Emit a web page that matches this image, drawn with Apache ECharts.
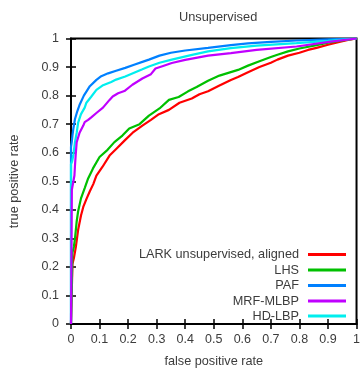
<!DOCTYPE html>
<html>
<head>
<meta charset="utf-8">
<script src="https://cdn.jsdelivr.net/npm/echarts@6/dist/echarts.min.js"></script>
<style>html,body{margin:0;padding:0;background:#fff;}#c{width:363px;height:373px;}</style>
</head>
<body>
<div id="c"></div>
<script>
var seriesNames = ['LARK unsupervised, aligned', 'LHS', 'PAF', 'MRF-MLBP', 'HD-LBP'];
var seriesColors = ['#ff0000', '#00c000', '#0080ff', '#c000ff', '#00eeee'];
var xTicks = [0, 0.1, 0.2, 0.3, 0.4, 0.5, 0.6, 0.7, 0.8, 0.9, 1];

var larkX = [0, 0.005, 0.01, 0.017, 0.025, 0.035, 0.043, 0.055, 0.066, 0.078, 0.089, 0.11, 0.135, 0.16, 0.19, 0.216, 0.25, 0.28, 0.308, 0.343, 0.38, 0.423, 0.45, 0.48, 0.52, 0.56, 0.585, 0.62, 0.66, 0.7, 0.723, 0.76, 0.8, 0.83, 0.86, 0.9, 0.94, 0.97, 1];
var larkY = [0, 0.21, 0.23, 0.27, 0.33, 0.38, 0.41, 0.44, 0.465, 0.49, 0.52, 0.55, 0.59, 0.615, 0.645, 0.67, 0.695, 0.715, 0.735, 0.75, 0.775, 0.79, 0.805, 0.815, 0.835, 0.855, 0.865, 0.882, 0.9, 0.915, 0.926, 0.94, 0.95, 0.96, 0.967, 0.978, 0.988, 0.995, 1];

var lhsX = [0, 0.005, 0.01, 0.014, 0.02, 0.025, 0.035, 0.048, 0.06, 0.077, 0.1, 0.128, 0.152, 0.18, 0.204, 0.24, 0.273, 0.31, 0.343, 0.377, 0.41, 0.44, 0.48, 0.52, 0.585, 0.62, 0.66, 0.7, 0.723, 0.76, 0.8, 0.86, 0.9, 0.95, 1];
var lhsY = [0, 0.25, 0.27, 0.3, 0.36, 0.395, 0.44, 0.476, 0.51, 0.545, 0.585, 0.61, 0.637, 0.66, 0.685, 0.7, 0.73, 0.755, 0.785, 0.795, 0.815, 0.83, 0.852, 0.87, 0.89, 0.905, 0.92, 0.935, 0.943, 0.955, 0.965, 0.977, 0.985, 0.993, 1];

var pafX = [0, 0, 0.003, 0.005, 0.008, 0.014, 0.022, 0.031, 0.045, 0.066, 0.089, 0.106, 0.13, 0.158, 0.19, 0.221, 0.25, 0.273, 0.31, 0.35, 0.4, 0.48, 0.56, 0.62, 0.7, 0.79, 0.9, 1];
var pafY = [0, 0.62, 0.64, 0.66, 0.683, 0.718, 0.745, 0.77, 0.8, 0.833, 0.855, 0.868, 0.878, 0.887, 0.897, 0.908, 0.918, 0.926, 0.94, 0.95, 0.958, 0.967, 0.977, 0.983, 0.988, 0.993, 0.997, 1];

var mrfX = [0, 0.003, 0.01, 0.012, 0.014, 0.017, 0.02, 0.03, 0.043, 0.048, 0.06, 0.071, 0.09, 0.112, 0.135, 0.146, 0.165, 0.187, 0.215, 0.25, 0.28, 0.296, 0.32, 0.353, 0.4, 0.48, 0.56, 0.65, 0.79, 0.91, 1];
var mrfY = [0, 0.47, 0.476, 0.52, 0.556, 0.6, 0.637, 0.67, 0.695, 0.707, 0.715, 0.724, 0.74, 0.758, 0.785, 0.797, 0.808, 0.816, 0.838, 0.86, 0.875, 0.895, 0.903, 0.914, 0.925, 0.94, 0.949, 0.96, 0.972, 0.989, 1];

var hdX = [0, 0, 0.004, 0.008, 0.014, 0.02, 0.025, 0.035, 0.048, 0.054, 0.07, 0.089, 0.11, 0.141, 0.158, 0.19, 0.221, 0.25, 0.273, 0.31, 0.353, 0.42, 0.48, 0.56, 0.65, 0.79, 0.9, 1];
var hdY = [0, 0.56, 0.57, 0.59, 0.638, 0.67, 0.705, 0.735, 0.758, 0.775, 0.795, 0.82, 0.835, 0.848, 0.856, 0.867, 0.88, 0.892, 0.902, 0.915, 0.926, 0.942, 0.955, 0.966, 0.975, 0.984, 0.992, 1];

function pairs(xs, ys) { return xs.map(function (x, i) { return [x, ys[i]]; }); }
var allData = [pairs(larkX, larkY), pairs(lhsX, lhsY), pairs(pafX, pafY), pairs(mrfX, mrfY), pairs(hdX, hdY)];
var zOrder = [2, 2, 2, 4, 3];

var font = 'Liberation Sans, Arial, sans-serif';
var txtColor = '#3c3c3c';
var legendTops = [248, 263.5, 279, 294.5, 309.5];

var chart = echarts.init(document.getElementById('c'));
var tickCfg = { show: true, inside: true, length: 5, lineStyle: { color: '#000', width: 1.5 } };
var option = {
  animation: false,
  backgroundColor: '#fff',
  title: {
    text: 'Unsupervised', left: 174, top: 6,
    textStyle: { fontFamily: font, fontSize: 12.8, fontWeight: 'normal', color: txtColor }
  },
  grid: { left: 71, top: 38.5, right: 3, bottom: 45.5, show: true, borderColor: '#000', borderWidth: 2, containLabel: false },
  legend: seriesNames.map(function (n, i) {
    return {
      data: [n], right: 17, top: legendTops[i], orient: 'vertical', align: 'right', padding: 0,
      icon: 'rect', itemWidth: 38, itemHeight: 3,
      textStyle: { fontFamily: font, fontSize: 12.7, color: txtColor, padding: [0, 4, 0, 0] }
    };
  }),
  xAxis: [{
    type: 'value', min: 0, max: 1, interval: 0.1, position: 'bottom',
    name: 'false positive rate', nameLocation: 'middle', nameGap: 31,
    nameTextStyle: { fontFamily: font, fontSize: 12.7, color: txtColor },
    axisLine: { show: true, lineStyle: { color: '#000', width: 2 } },
    axisTick: tickCfg,
    axisLabel: { margin: 9, fontFamily: font, fontSize: 12.5, color: txtColor,
      formatter: function (v) { return xTicks.indexOf(Math.round(v * 10) / 10) >= 0 ? String(Math.round(v * 10) / 10) : ''; } },
    splitLine: { show: false }
  }, {
    type: 'value', min: 0, max: 1, interval: 0.1, position: 'top',
    axisLine: { show: false }, axisTick: tickCfg, axisLabel: { show: false }, splitLine: { show: false }
  }],
  yAxis: [{
    type: 'value', min: 0, max: 1, interval: 0.1, position: 'left',
    name: 'true positive rate', nameLocation: 'middle', nameGap: 50,
    nameTextStyle: { fontFamily: font, fontSize: 12.7, color: txtColor },
    axisLine: { show: true, lineStyle: { color: '#000', width: 2 } },
    axisTick: tickCfg,
    axisLabel: { margin: 12, fontFamily: font, fontSize: 12.5, color: txtColor,
      formatter: function (v) { return String(Math.round(v * 10) / 10); } },
    splitLine: { show: false }
  }, {
    type: 'value', min: 0, max: 1, interval: 0.1, position: 'right',
    axisLine: { show: false }, axisTick: tickCfg, axisLabel: { show: false }, splitLine: { show: false }
  }],
  series: seriesNames.map(function (n, i) {
    return {
      name: n, type: 'line', data: allData[i], showSymbol: false, symbol: 'none', z: zOrder[i],
      color: seriesColors[i], lineStyle: { color: seriesColors[i], width: 2.2 }
    };
  })
};
chart.setOption(option);
</script>
</body>
</html>
